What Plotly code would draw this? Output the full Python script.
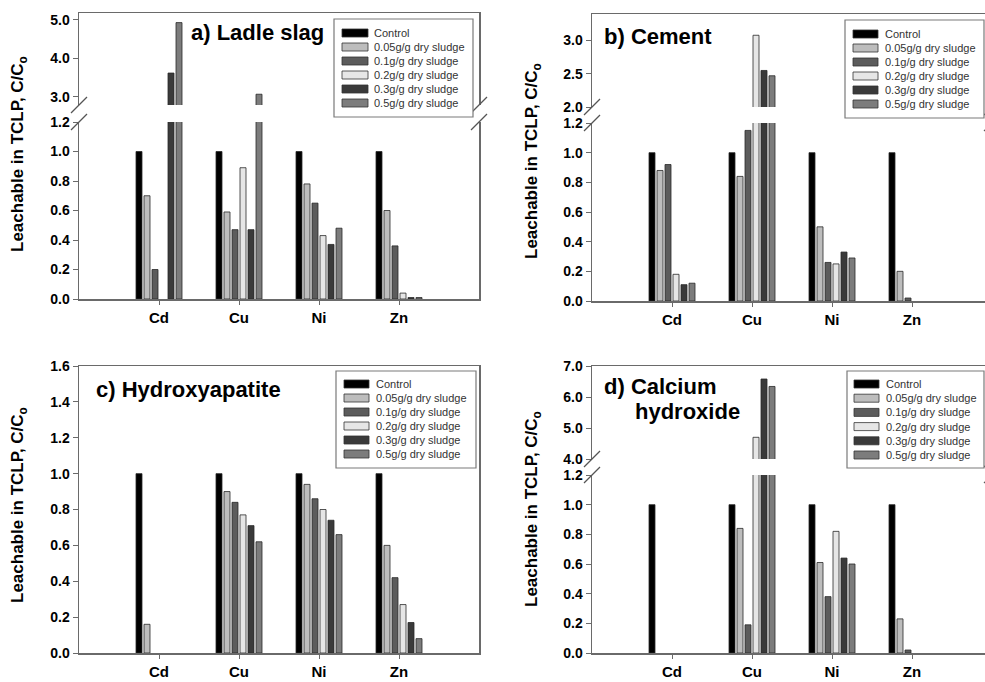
import plotly.graph_objects as go

W, H = 985, 682

categories = ["Cd", "Cu", "Ni", "Zn"]
series_names = ["Control", "0.05g/g dry sludge", "0.1g/g dry sludge",
                "0.2g/g dry sludge", "0.3g/g dry sludge", "0.5g/g dry sludge"]
bar_colors = ["#000000", "#bdbdbd", "#5c5c5c", "#e6e6e6", "#3a3a3a", "#7c7c7c"]

# rows = series (Control, 0.05, 0.1, 0.2, 0.3, 0.5); columns = Cd, Cu, Ni, Zn
ladle_slag = [
    [1.00, 1.00, 1.00, 1.00],
    [0.70, 0.59, 0.78, 0.60],
    [0.20, 0.47, 0.65, 0.36],
    [0.00, 0.89, 0.43, 0.04],
    [3.62, 0.47, 0.37, 0.01],
    [4.93, 3.07, 0.48, 0.01],
]
cement = [
    [1.00, 1.00, 1.00, 1.00],
    [0.88, 0.84, 0.50, 0.20],
    [0.92, 1.15, 0.26, 0.02],
    [0.18, 3.08, 0.25, 0.00],
    [0.11, 2.55, 0.33, 0.00],
    [0.12, 2.47, 0.29, 0.00],
]
hydroxyapatite = [
    [1.00, 1.00, 1.00, 1.00],
    [0.16, 0.90, 0.94, 0.60],
    [0.00, 0.84, 0.86, 0.42],
    [0.00, 0.77, 0.80, 0.27],
    [0.00, 0.71, 0.74, 0.17],
    [0.00, 0.62, 0.66, 0.08],
]
calcium_hydroxide = [
    [1.00, 1.00, 1.00, 1.00],
    [0.00, 0.84, 0.61, 0.23],
    [0.00, 0.19, 0.38, 0.02],
    [0.00, 4.70, 0.82, 0.00],
    [0.00, 6.58, 0.64, 0.00],
    [0.00, 6.34, 0.60, 0.00],
]

lower_ticks = [0.0, 0.2, 0.4, 0.6, 0.8, 1.0, 1.2]
ladle_upper_ticks = [3.0, 4.0, 5.0]
cement_upper_ticks = [2.0, 2.5, 3.0]
hydroxy_ticks = [0.0, 0.2, 0.4, 0.6, 0.8, 1.0, 1.2, 1.4, 1.6]
calcium_upper_ticks = [4.0, 5.0, 6.0, 7.0]

y_title = "<b>Leachable in TCLP, C/C<sub>o</sub></b>"
FONT = "Liberation Sans, Arial, sans-serif"
AX = "#6a6a6a"


def px(x):
    return x / W


def py(y):
    return 1 - y / H


fig = go.Figure()
layout = dict(
    width=W, height=H, margin=dict(l=0, r=0, t=0, b=0, autoexpand=False),
    paper_bgcolor="white", plot_bgcolor="white",
    barmode="group", bargap=0.4, bargroupgap=0.25,
    showlegend=False, font=dict(family=FONT, color="black"),
)
shapes = []
annotations = []


def add_bars(data, xa, ya):
    for i, name in enumerate(series_names):
        vals = [v if v > 0 else None for v in data[i]]
        fig.add_trace(go.Bar(
            x=categories, y=vals, name=name,
            marker=dict(color=bar_colors[i], line=dict(color="#2a2a2a", width=0.8)),
            xaxis=xa, yaxis=ya, showlegend=False,
        ))


def key(prefix, n):
    return prefix if n == 1 else f"{prefix}{n}"


def x_axis(n, anchor, x0, x1, xr, top=False, mirror=False, match=None):
    d = dict(domain=[px(x0), px(x1)], anchor=anchor, type="category",
             range=xr, showline=True, linecolor=AX, linewidth=1.5,
             showgrid=False, zeroline=False, fixedrange=True, automargin=False)
    if top:
        d.update(side="top", showticklabels=False, ticks="")
    else:
        d.update(ticks="outside", ticklen=4, tickcolor=AX, mirror=mirror,
                 tickfont=dict(size=15, family=FONT, color="black", weight="bold"),
                 ticklabelstandoff=0)
    if match:
        d["matches"] = match
    layout[key("xaxis", n)] = d


def y_axis(n, anchor, y_bottom, y_top, yr, ticks):
    layout[key("yaxis", n)] = dict(
        domain=[py(y_bottom), py(y_top)], anchor=anchor, range=yr,
        tickvals=ticks, tickformat=".1f", ticks="outside", ticklen=5,
        tickcolor=AX, showline=True, linecolor=AX, linewidth=1.5, mirror=True,
        showgrid=False, zeroline=False, fixedrange=True, automargin=False,
        tickfont=dict(size=14, family=FONT, color="black", weight="bold"),
    )


def break_marks(xs, ys):
    for X in xs:
        for Y in ys:
            shapes.append(dict(type="line", xref="paper", yref="paper",
                               x0=px(X - 8), y0=py(Y + 8), x1=px(X + 8), y1=py(Y - 8),
                               line=dict(color="#555555", width=1.2)))


def legend_box(x0, x1, y0, y1, sw0, sw1, tx, rows):
    shapes.append(dict(type="rect", xref="paper", yref="paper",
                       x0=px(x0), x1=px(x1), y0=py(y1), y1=py(y0),
                       line=dict(color="#7a7a7a", width=1.2), fillcolor="white"))
    for i, name in enumerate(series_names):
        yc = rows[0] + i * (rows[1] - rows[0]) / 5
        shapes.append(dict(type="rect", xref="paper", yref="paper",
                           x0=px(sw0), x1=px(sw1), y0=py(yc + 4), y1=py(yc - 4),
                           line=dict(color="#333333", width=0.8),
                           fillcolor=bar_colors[i]))
        annotations.append(dict(xref="paper", yref="paper", x=px(tx), y=py(yc),
                                text=name, showarrow=False, xanchor="left",
                                yanchor="middle", borderpad=0,
                                font=dict(size=11, family=FONT, color="#333333")))


def text(x, y, s, size, anchor="left", angle=0):
    annotations.append(dict(xref="paper", yref="paper", x=px(x), y=py(y),
                            text=s, showarrow=False, xanchor=anchor,
                            yanchor="middle", textangle=angle, borderpad=0,
                            font=dict(size=size, family=FONT, color="black")))


# ---- a) Ladle slag (broken axis)
add_bars(ladle_slag, "x", "y")
add_bars(ladle_slag, "x2", "y2")
x_axis(1, "y", 79, 479, [-1, 4])
x_axis(2, "y2", 79, 479, [-1, 4], top=True, match="x")
y_axis(1, "x", 299, 122, [0, 1.2], lower_ticks)
y_axis(2, "x2", 105, 13, [2.79, 5.18], ladle_upper_ticks)
break_marks([79, 479], [105, 122])
legend_box(334, 473, 19, 117, 342, 368, 373, (33, 103))
text(190, 33, "<b>a) Ladle slag</b>", 22)
text(19, 154, y_title, 17, anchor="center", angle=-90)

# ---- b) Cement (broken axis)
add_bars(cement, "x3", "y3")
add_bars(cement, "x4", "y4")
xr_b = [-1, -1 + 393 / 80]
x_axis(3, "y3", 592, 985, xr_b)
x_axis(4, "y4", 592, 985, xr_b, top=True, match="x3")
y_axis(3, "x3", 301, 123, [0, 1.2], lower_ticks)
y_axis(4, "x4", 107, 14, [2.0, 3.4], cement_upper_ticks)
break_marks([592, 992], [107, 123])
legend_box(845, 984, 20, 118, 853, 878, 884, (34, 104))
text(603, 37, "<b>b) Cement</b>", 22)
text(533, 161, y_title, 17, anchor="center", angle=-90)

# ---- c) Hydroxyapatite
add_bars(hydroxyapatite, "x5", "y5")
x_axis(5, "y5", 79, 479, [-1, 4], mirror=True)
y_axis(5, "x5", 653, 366, [0, 1.6], hydroxy_ticks)
legend_box(336, 476, 371, 468, 344, 369, 375, (384, 454))
text(95, 389, "<b>c) Hydroxyapatite</b>", 22)
text(19, 505, y_title, 17, anchor="center", angle=-90)

# ---- d) Calcium hydroxide (broken axis)
add_bars(calcium_hydroxide, "x6", "y6")
add_bars(calcium_hydroxide, "x7", "y7")
x_axis(6, "y6", 592, 985, xr_b)
x_axis(7, "y7", 592, 985, xr_b, top=True, match="x6")
y_axis(6, "x6", 653, 475, [0, 1.2], lower_ticks)
y_axis(7, "x7", 459, 366, [4.0, 7.0], calcium_upper_ticks)
break_marks([592, 992], [459, 475])
legend_box(847, 984, 371, 468, 854, 879, 885, (384, 455))
text(603, 386, "<b>d) Calcium</b>", 22)
text(634, 411, "<b>hydroxide</b>", 22)
text(533, 509, y_title, 17, anchor="center", angle=-90)

layout["shapes"] = shapes
layout["annotations"] = annotations
fig.update_layout(**layout)
fig.write_html("out.html",
               config={"displayModeBar": False, "staticPlot": True},
               post_script="document.body.style.margin='0px';"
                           "document.body.style.overflow='hidden';")
